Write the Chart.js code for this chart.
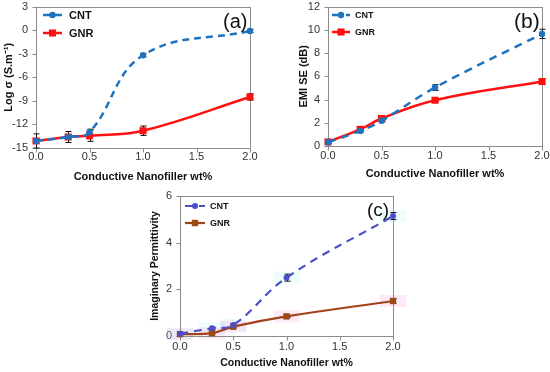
<!DOCTYPE html>
<html><head><meta charset="utf-8">
<script src="https://cdn.jsdelivr.net/npm/chart.js@4"></script>
<style>
html,body{margin:0;padding:0;background:#fff}
body{width:550px;height:372px;position:relative;overflow:hidden}
canvas{position:absolute;display:block}
.tag{position:absolute;font-family:"Liberation Sans",Arial,sans-serif;color:#111;line-height:1;white-space:nowrap}
</style></head><body>
<canvas id="ca" width="275" height="186" style="left:0;top:0"></canvas>
<canvas id="cb" width="275" height="186" style="left:275px;top:0"></canvas>
<canvas id="cc" width="290" height="186" style="left:130px;top:186px"></canvas>
<div class="tag" style="left:223px;top:11px;font-size:20px">(a)</div>
<div class="tag" style="left:514px;top:10px;font-size:21px">(b)</div>
<div class="tag" style="left:367px;top:200px;font-size:19px">(c)</div>
<script>
// ---------- data ----------
const xValues = [0, 0.3, 0.5, 1.0, 2.0];
const xTickValues = [0, 0.5, 1.0, 1.5, 2.0];
const seriesNames = ['CNT', 'GNR'];
const xTitle = 'Conductive Nanofiller wt%';

const condTitle = 'Log σ (S.m⁻¹)';
const condTicks = [-15, -12, -9, -6, -3, 0, 3];
const condCNT = [-14.1, -13.6, -13.0, -3.2, -0.1];
const condGNR = [-14.1, -13.6, -13.45, -12.8, -8.5];
const condCNTErr = [0.3, 0.3, 0.4, 0.2, 0.2];
const condGNRErr = [0.9, 0.7, 0.7, 0.6, 0.4];

const emiTitle = 'EMI SE (dB)';
const emiTicks = [0, 2, 4, 6, 8, 10, 12];
const emiCNT = [0.32, 1.3, 2.17, 5.03, 9.65];
const emiGNR = [0.35, 1.43, 2.37, 3.94, 5.55];
const emiCNTErr = [0.08, 0.1, 0.1, 0.25, 0.4];
const emiGNRErr = [0.08, 0.1, 0.15, 0.1, 0.25];

const permTitle = 'Imaginary Permittivity';
const permTicks = [0, 2, 4, 6];
const permCNT = [0.1, 0.33, 0.47, 2.5, 5.14];
const permGNR = [0.08, 0.12, 0.4, 0.84, 1.5];
const permCNTErr = [0.03, 0.05, 0.05, 0.15, 0.15];
const permGNRErr = [0.03, 0.03, 0.05, 0.05, 0.1];

// ---------- helpers ----------
const FONT = '"Liberation Sans", Arial, sans-serif';
const pts = ys => xValues.map((x, i) => ({x: x, y: ys[i]}));

const framePlugin = {
  id: 'frame',
  beforeDatasetsDraw(chart) {
    const a = chart.chartArea, ctx = chart.ctx, {x, y} = chart.scales;
    ctx.save();
    ctx.strokeStyle = '#8c8c8c'; ctx.lineWidth = 1;
    const L = Math.round(a.left) + 0.5, T = Math.round(a.top) + 0.5;
    const R = Math.round(a.right) + 0.5, B = Math.round(a.bottom) + 0.5;
    ctx.strokeRect(L, T, R - L, B - T);
    ctx.beginPath();
    y.ticks.forEach(t => { const p = Math.round(y.getPixelForValue(t.value)) + 0.5; ctx.moveTo(L - 4, p); ctx.lineTo(L, p); });
    x.ticks.forEach(t => { const p = Math.round(x.getPixelForValue(t.value)) + 0.5; ctx.moveTo(p, B); ctx.lineTo(p, B + 4); });
    ctx.stroke();
    ctx.restore();
  }
};

// soft halo behind markers (visible in panel c)
const haloPlugin = {
  id: 'halo',
  beforeDatasetsDraw(chart, args, o) {
    if (!o || !o.colors) return;
    const {ctx, scales: {x, y}} = chart;
    ctx.save();
    chart.data.datasets.forEach((ds, i) => {
      ctx.fillStyle = o.colors[i];
      ds.data.forEach(p => {
        const px = x.getPixelForValue(p.x), py = y.getPixelForValue(p.y);
        ctx.fillRect(px - o.w / 2, py - o.h / 2, o.w, o.h);
      });
    });
    ctx.restore();
  }
};

const errorPlugin = {
  id: 'errorBars',
  beforeDatasetsDraw(chart) {
    const {ctx, scales: {x, y}} = chart;
    ctx.save(); ctx.strokeStyle = '#111'; ctx.lineWidth = 1;
    chart.data.datasets.forEach(ds => {
      if (!ds.errors) return;
      ds.data.forEach((p, j) => {
        const e = ds.errors[j]; if (!e) return;
        const px = Math.round(x.getPixelForValue(p.x)) + 0.5;
        const y1 = y.getPixelForValue(p.y - e), y2 = y.getPixelForValue(p.y + e);
        ctx.beginPath();
        ctx.moveTo(px, y1); ctx.lineTo(px, y2);
        ctx.moveTo(px - 3, y1); ctx.lineTo(px + 3, y1);
        ctx.moveTo(px - 3, y2); ctx.lineTo(px + 3, y2);
        ctx.stroke();
      });
    });
    ctx.restore();
  }
};

const legendPlugin = {
  id: 'inLegend',
  afterDraw(chart, args, o) {
    const ctx = chart.ctx;
    ctx.save();
    chart.data.datasets.forEach((ds, i) => {
      const y = o.y + i * o.dy;
      ctx.beginPath();
      ctx.strokeStyle = ds.borderColor; ctx.lineWidth = ds.borderWidth;
      ctx.setLineDash(ds.borderDash || []);
      ctx.moveTo(o.x, y); ctx.lineTo(o.x + o.len, y); ctx.stroke();
      ctx.setLineDash([]);
      const cx = o.x + o.len / 2;
      ctx.fillStyle = ds.pointBackgroundColor;
      if (ds.pointStyle === 'rect') {
        const s = ds.pointRadius * Math.SQRT1_2;
        ctx.fillRect(cx - s, y - s, 2 * s, 2 * s);
      } else {
        ctx.beginPath(); ctx.arc(cx, y, ds.pointRadius, 0, Math.PI * 2); ctx.fill();
      }
      ctx.fillStyle = '#111';
      ctx.font = o.font; ctx.textBaseline = 'middle'; ctx.textAlign = 'left';
      ctx.fillText(ds.label, o.x + o.len + o.gap, y + 0.5);
    });
    ctx.restore();
  }
};

function makeChart(id, cfg) {
  const tickFont = {family: FONT, size: 11};
  const titleFont = {family: FONT, size: cfg.titleSize, weight: 'bold'};
  return new Chart(document.getElementById(id), {
    type: 'line',
    data: {
      datasets: [
        {label: seriesNames[0], data: pts(cfg.cnt), errors: cfg.cntErr,
         borderColor: cfg.cntColor, backgroundColor: cfg.cntColor, pointBackgroundColor: cfg.cntColor,
         pointBorderColor: cfg.cntColor, borderWidth: cfg.lw, borderDash: cfg.dash,
         pointStyle: 'circle', pointRadius: cfg.cr, pointBorderWidth: 0, tension: 0.4, clip: false},
        {label: seriesNames[1], data: pts(cfg.gnr), errors: cfg.gnrErr,
         borderColor: cfg.gnrColor, backgroundColor: cfg.gnrColor, pointBackgroundColor: cfg.gnrPoint,
         pointBorderColor: cfg.gnrPoint, borderWidth: cfg.lw, pointStyle: 'rect',
         pointRadius: cfg.sr, pointBorderWidth: 0, tension: 0.4, clip: false}
      ]
    },
    options: {
      responsive: false, animation: false,
      layout: {padding: cfg.pad},
      plugins: {legend: {display: false}, tooltip: {enabled: false}, inLegend: cfg.legend, halo: cfg.halo || {}},
      scales: {
        x: {
          type: 'linear', min: 0, max: 2,
          afterBuildTicks: s => { s.ticks = xTickValues.map(v => ({value: v})); },
          afterFit: s => { s.height = cfg.xH; },
          border: {display: false},
          grid: {drawOnChartArea: false, color: 'rgba(0,0,0,0)', tickLength: 4},
          ticks: {font: tickFont, color: '#333', padding: cfg.xPad, callback: v => Number(v).toFixed(1), maxRotation: 0},
          title: {display: true, text: xTitle, font: titleFont, color: '#111', padding: {top: 0, bottom: cfg.xTitlePad}}
        },
        y: {
          type: 'linear', min: cfg.yTicks[0], max: cfg.yTicks[cfg.yTicks.length - 1],
          afterBuildTicks: s => { s.ticks = cfg.yTicks.map(v => ({value: v})); },
          afterFit: s => { s.width = cfg.yW; },
          border: {display: false},
          grid: {drawOnChartArea: false, color: 'rgba(0,0,0,0)', tickLength: 8},
          ticks: {font: tickFont, color: '#333', padding: 0, autoSkip: false},
          title: {display: true, text: cfg.yTitle, font: titleFont, color: '#111', padding: {top: cfg.yTitlePad, bottom: 0}}
        }
      }
    },
    plugins: [haloPlugin, framePlugin, errorPlugin, legendPlugin]
  });
}

makeChart('ca', {
  cnt: condCNT, gnr: condGNR, cntErr: condCNTErr, gnrErr: condGNRErr,
  cntColor: '#1f72bd', gnrColor: '#ff1010', gnrPoint: '#ff1010',
  lw: 2.5, dash: [7, 5], cr: 3.2, sr: 5,
  yTicks: condTicks, yTitle: condTitle, titleSize: 11,
  pad: {left: 0, top: 6, right: 25, bottom: 0}, yW: 36, xH: 38, xPad: -2, xTitlePad: 2.4, yTitlePad: 2.4,
  legend: {x: 43, y: 15, dy: 18, len: 19, gap: 7, font: 'bold 11px ' + FONT}
});

makeChart('cb', {
  cnt: emiCNT, gnr: emiGNR, cntErr: emiCNTErr, gnrErr: emiGNRErr,
  cntColor: '#1f72bd', gnrColor: '#ff1010', gnrPoint: '#ff1010',
  lw: 2.5, dash: [8, 6], cr: 3.2, sr: 5,
  yTicks: emiTicks, yTitle: emiTitle, titleSize: 11,
  pad: {left: 22, top: 6, right: 8, bottom: 0}, yW: 31, xH: 40, xPad: -1, xTitlePad: 5.4, yTitlePad: 0,
  legend: {x: 57, y: 15, dy: 17, len: 18, gap: 5, font: 'bold 9px ' + FONT}
});

makeChart('cc', {
  cnt: permCNT, gnr: permGNR, cntErr: permCNTErr, gnrErr: permGNRErr,
  cntColor: '#4a4fc8', gnrColor: '#a3421a', gnrPoint: '#9a4a12',
  lw: 2.2, dash: [8, 6], cr: 3, sr: 4.5,
  yTicks: permTicks, yTitle: permTitle, titleSize: 10.5,
  pad: {left: 18, top: 10, right: 27, bottom: 0}, yW: 32, xH: 36, xPad: 0, xTitlePad: 2.4, yTitlePad: 0.5,
  legend: {x: 55, y: 20, dy: 17, len: 20, gap: 5, font: 'bold 9px ' + FONT},
  halo: {colors: ['rgba(120,240,250,0.14)', 'rgba(250,120,220,0.16)'], w: 26, h: 12}
});
</script>
</body></html>
